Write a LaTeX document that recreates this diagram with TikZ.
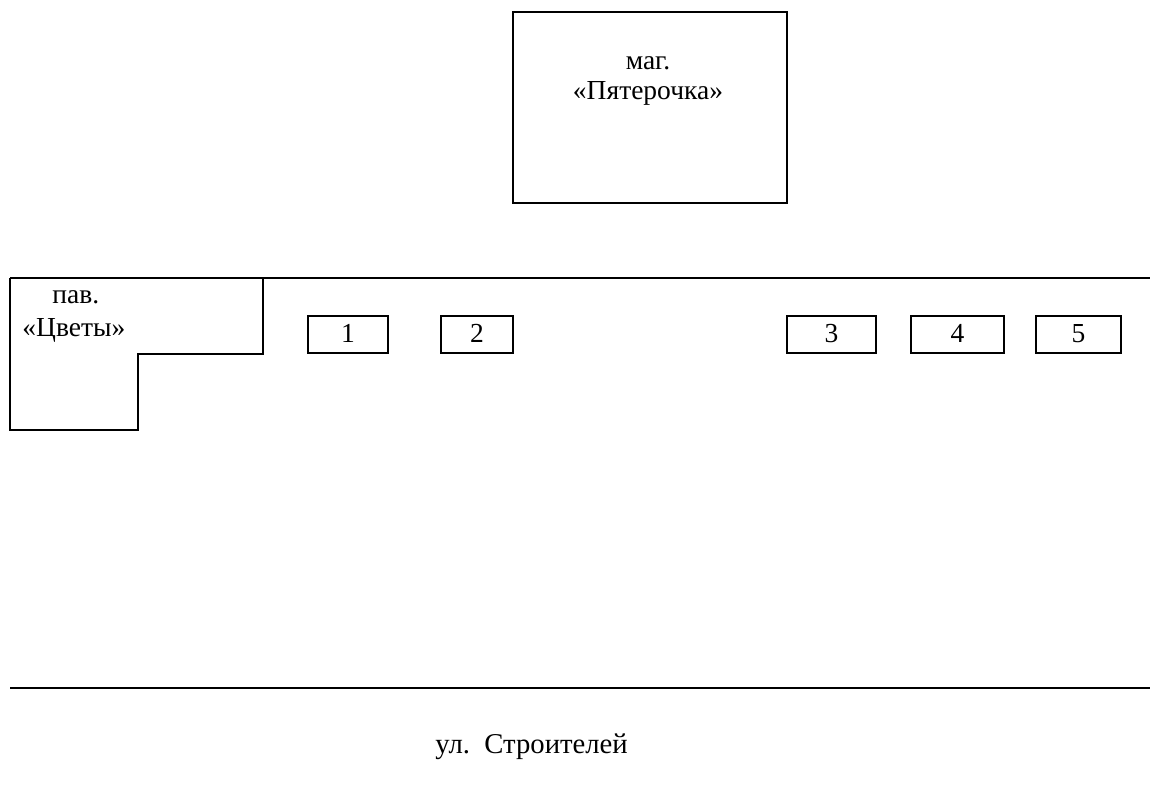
\documentclass[tikz,border=0pt]{standalone}
\usepackage{fontspec}
\setmainfont{Liberation Serif}
\usepackage{tikz}
\usetikzlibrary{calc}
\tikzset{
    wall/.style={line width=0.9pt},
    sign/.style={font=\fontsize{11.5}{14}\selectfont, inner sep=0pt, anchor=base},
    signleft/.style={sign, anchor=base west},
}

\begin{document}
\begin{tikzpicture}[x=0.0147cm, y=-0.0147cm]
      \useasboundingbox (0,0) rectangle (1150,785);

      % shop
      \draw[wall] (513,12) rectangle (787,203);
      \node[sign] (shop-a) at (648,69) {маг.};
      \node[sign] (shop-b) at (648,99) {«Пятерочка»};

      % row line
      \coordinate (row-start) at (10,278);
      \coordinate (row-end) at (1150,278);
      \draw[wall] (row-start) -- (row-end);

      % pavilion
      \draw[wall] (row-start) -- (10,430) -- (138,430) -- (138,354) -- (263,354) -- (263,278);
      \node[signleft] (pav-a) at (52,303) {пав.};
      \node[signleft] (pav-b) at (22,336) {«Цветы»};

      % stalls
      \foreach \xa/\xb/\n in {308/388/1, 441/513/2, 787/876/3, 911/1004/4, 1036/1121/5} {
          \draw[wall] (\xa,316) rectangle (\xb,353);
          \node[sign] (stall-\n) at ({(\xa+\xb)/2},342) {\n};
      }

      % street
      \coordinate (street-start) at (10,688);
      \coordinate (street-end) at (1150,688);
      \draw[wall] (street-start) -- (street-end);
      \node[signleft, font=\fontsize{12}{14}\selectfont] (street) at (435,753) {ул.\ \ Строителей};
    \end{tikzpicture}
\end{document}
